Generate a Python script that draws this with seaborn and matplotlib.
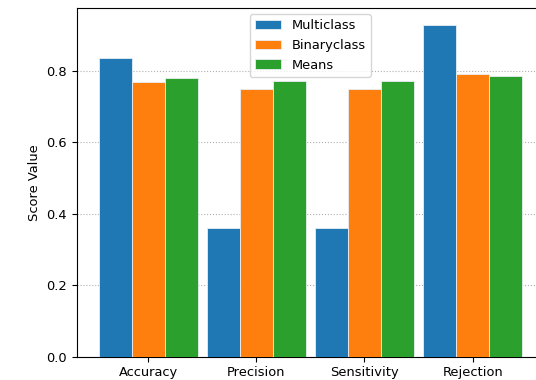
import matplotlib
matplotlib.use("Agg")
import matplotlib.pyplot as plt
import seaborn as sns
import pandas as pd

categories = ["Accuracy", "Precision", "Sensitivity", "Rejection"]
series_names = ["Multiclass", "Binaryclass", "Means"]
multiclass = [0.835, 0.360, 0.360, 0.929]
binaryclass = [0.769, 0.749, 0.749, 0.790]
means = [0.779, 0.771, 0.771, 0.785]

rows = []
for name, vals in zip(series_names, [multiclass, binaryclass, means]):
    for cat, v in zip(categories, vals):
        rows.append({"Metric": cat, "Model": name, "Score": v})
df = pd.DataFrame(rows)

plt.rcParams["font.family"] = ["DejaVu Sans"]
plt.rcParams["font.size"] = 9.4

fig = plt.figure(figsize=(5.36, 3.80), dpi=100)
ax = fig.add_axes([0.1431, 0.0613, 0.872, 0.9184])

palette = ["#1f77b4", "#ff7f0e", "#2ca02c"]
sns.barplot(data=df, x="Metric", y="Score", hue="Model", order=categories,
            hue_order=series_names, palette=palette, width=0.915,
            saturation=1, edgecolor="#e8eef4", linewidth=0.6, ax=ax, zorder=3)

ax.set_xlim(-0.66, 3.66)
ax.set_ylim(0, 0.976)
ax.set_yticks([0.0, 0.2, 0.4, 0.6, 0.8])
ax.set_yticklabels(["0.0", "0.2", "0.4", "0.6", "0.8"])
ax.yaxis.grid(True, linestyle=":", color="#b0b0b0", linewidth=0.8, zorder=0)
ax.set_axisbelow(True)
ax.set_xlabel("")
ax.set_ylabel("Score Value")
ax.legend(loc="upper center", title=None, fontsize=9.4)

fig.savefig("out.png", dpi=100)
